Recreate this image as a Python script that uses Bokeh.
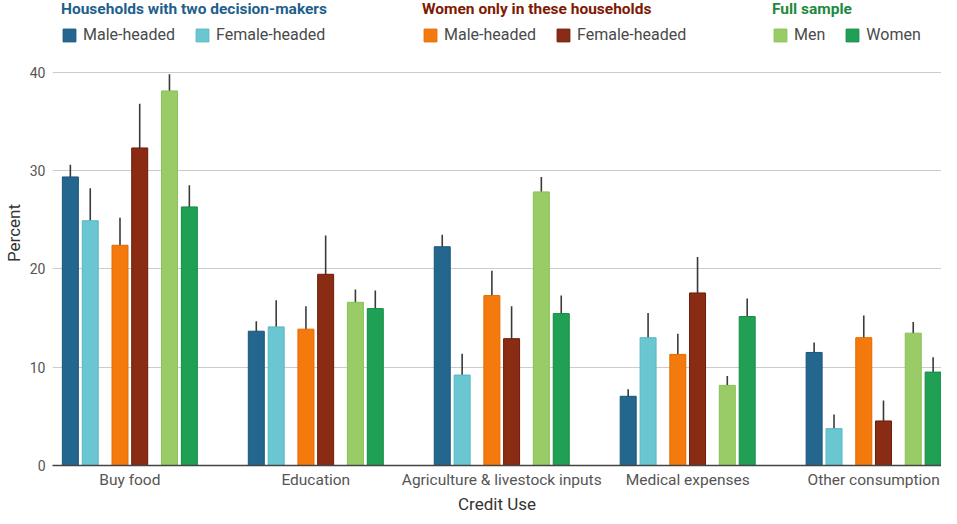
from bokeh.plotting import figure
from bokeh.models import (ColumnDataSource, Whisker, Legend, LegendItem,
                          FixedTicker, Range1d)
from bokeh.transform import dodge
from bokeh.embed import file_html
from bokeh.resources import INLINE

categories = ["Buy food", "Education", "Agriculture & livestock inputs",
              "Medical expenses", "Other consumption"]

# Households with two decision-makers
two_male = [29.35, 13.66, 22.25, 7.04, 11.5]
two_male_lo = [28.0, 12.7, 21.06, 6.33, 10.65]
two_male_hi = [30.6, 14.67, 23.47, 7.75, 12.5]
two_female = [24.9, 14.1, 9.2, 13.0, 3.75]
two_female_lo = [21.7, 11.6, 7.0, 10.5, 2.3]
two_female_hi = [28.2, 16.8, 11.36, 15.5, 5.2]
# Women only in these households
wo_male = [22.4, 13.87, 17.28, 11.3, 13.0]
wo_male_lo = [19.7, 11.6, 14.8, 9.2, 10.75]
wo_male_hi = [25.2, 16.2, 19.8, 13.4, 15.25]
wo_female = [32.3, 19.45, 12.9, 17.55, 4.53]
wo_female_lo = [27.7, 15.6, 9.6, 13.8, 2.5]
wo_female_hi = [36.8, 23.4, 16.2, 21.2, 6.6]
# Full sample
full_men = [38.1, 16.6, 27.83, 8.15, 13.46]
full_men_lo = [36.5, 15.3, 26.27, 7.24, 12.27]
full_men_hi = [39.8, 17.9, 29.35, 9.1, 14.6]
full_women = [26.3, 15.96, 15.45, 15.15, 9.5]
full_women_lo = [24.0, 14.1, 13.6, 13.3, 8.0]
full_women_hi = [28.5, 17.8, 17.3, 17.0, 11.0]

y_ticks = [0, 10, 20, 30, 40]

FONT = "Roboto"

series = [
    ("Male-headed", two_male, two_male_lo, two_male_hi, -0.32, "#23678F", "#1B5478", 0),
    ("Female-headed", two_female, two_female_lo, two_female_hi, -0.213, "#6AC6D0", "#58B8C3", 0),
    ("Male-headed", wo_male, wo_male_lo, wo_male_hi, -0.053, "#F57A0D", "#E06A00", 1),
    ("Female-headed", wo_female, wo_female_lo, wo_female_hi, 0.053, "#8A2C14", "#6A1C08", 1),
    ("Men", full_men, full_men_lo, full_men_hi, 0.213, "#99CC66", "#88C058", 2),
    ("Women", full_women, full_women_lo, full_women_hi, 0.32, "#1FA055", "#178A45", 2),
]

p = figure(width=941, height=516, output_backend="svg", toolbar_location=None,
           x_range=Range1d(-0.416, 4.365), y_range=Range1d(0, 47.3),
           min_border_top=0, min_border_right=0, min_border_left=50,
           min_border_bottom=0)
p.outline_line_color = None
p.background_fill_color = "white"

xs = list(range(len(categories)))
legend_items = [[], [], []]
for name, vals, lo, hi, off, fill, line, grp in series:
    src = ColumnDataSource(dict(x=xs, top=vals, lo=lo, hi=hi))
    r = p.vbar(x=dodge("x", off), top="top", width=0.086, bottom=0, source=src,
               fill_color=fill, line_color=line, line_width=1)
    w = Whisker(source=src, base=dodge("x", off), upper="hi", lower="lo",
                dimension="height", line_color="#3a3a3a", line_width=1.6,
                upper_head=None, lower_head=None)
    p.add_layout(w)
    legend_items[grp].append(LegendItem(label=name, renderers=[r]))

titles = ["Households with two decision-makers", "Women only in these households", "Full sample"]
title_colors = ["#1F5F8B", "#7E1A04", "#1E8A3E"]
lx = [9, 370, 720]
for i in range(3):
    lg = Legend(items=legend_items[i], orientation="horizontal",
                location=(lx[i], 421), title=titles[i],
                title_text_color=title_colors[i], title_text_font=FONT,
                title_text_font_size="15.5px", title_text_font_style="bold",
                title_standoff=7,
                label_text_font=FONT, label_text_font_size="16px",
                label_text_color="#4a4a4a",
                glyph_width=16, glyph_height=16, spacing=19, label_standoff=6,
                padding=0, margin=0, border_line_color=None,
                background_fill_alpha=0)
    p.add_layout(lg)

# axes
p.xgrid.grid_line_color = None
p.ygrid.grid_line_color = "#cccccc"
p.ygrid.grid_line_width = 1
p.ygrid.ticker = FixedTicker(ticks=y_ticks)

p.xaxis.ticker = FixedTicker(ticks=xs)
p.xaxis.major_label_overrides = {i: c for i, c in enumerate(categories)}
p.xaxis.axis_line_color = "#444444"
p.xaxis.axis_line_width = 1.5
p.xaxis.major_tick_line_color = None
p.xaxis.minor_tick_line_color = None
p.xaxis.major_tick_out = 0
p.xaxis.minor_tick_out = 0
p.xaxis.major_label_standoff = 5
p.xaxis.major_label_text_font = FONT
p.xaxis.major_label_text_font_size = "15.5px"
p.xaxis.major_label_text_color = "#555555"
p.xaxis.axis_label = "Credit Use"
p.xaxis.axis_label_text_font = FONT
p.xaxis.axis_label_text_font_size = "17px"
p.xaxis.axis_label_text_font_style = "normal"
p.xaxis.axis_label_text_color = "#333333"
p.xaxis.axis_label_standoff = 2

p.yaxis.ticker = FixedTicker(ticks=y_ticks)
p.yaxis.axis_line_color = None
p.yaxis.major_tick_line_color = None
p.yaxis.minor_tick_line_color = None
p.yaxis.major_tick_out = 0
p.yaxis.minor_tick_out = 0
p.yaxis.major_label_standoff = 7
p.yaxis.major_label_text_font = FONT
p.yaxis.major_label_text_font_size = "14px"
p.yaxis.major_label_text_color = "#555555"
p.yaxis.axis_label = "Percent"
p.yaxis.axis_label_text_font = FONT
p.yaxis.axis_label_text_font_size = "17px"
p.yaxis.axis_label_text_font_style = "normal"
p.yaxis.axis_label_text_color = "#333333"
p.yaxis.axis_label_standoff = 3

open("out.html", "w").write(file_html(p, INLINE))
